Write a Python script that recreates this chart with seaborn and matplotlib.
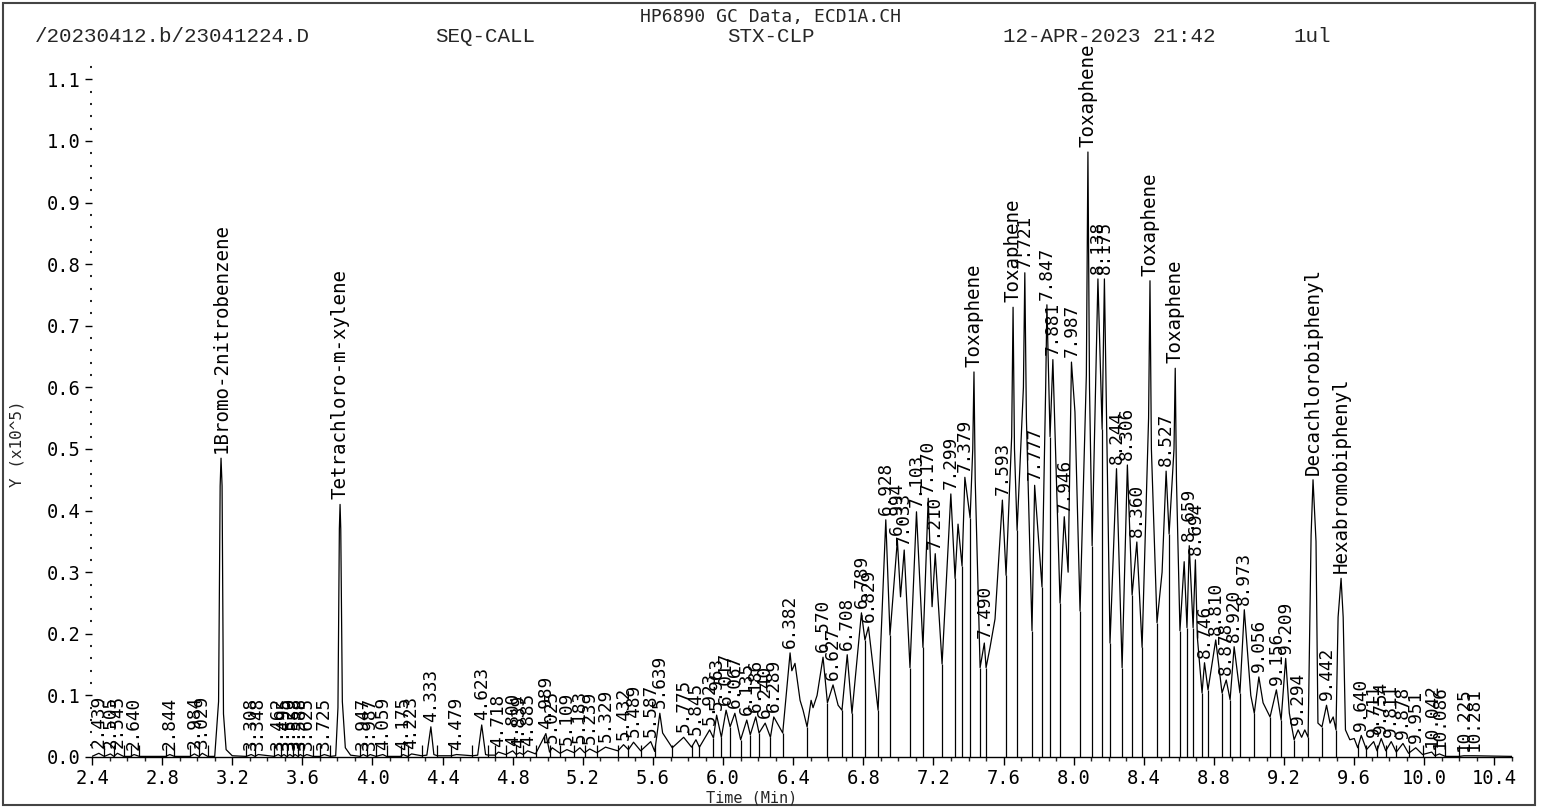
import numpy as np
import pandas as pd
import seaborn as sns
from matplotlib import pyplot as plt
from matplotlib.patches import Rectangle
from matplotlib.ticker import MultipleLocator, FormatStrFormatter

# peak apexes: retention time (min), signal (x10^5), printed label
peak_t = [2.439, 2.505, 2.545, 2.640, 2.844, 2.984, 3.029, 3.136,
          3.308, 3.348, 3.462, 3.495, 3.529, 3.558, 3.588, 3.625, 3.725, 3.815,
          3.947, 3.987, 4.059, 4.175, 4.223, 4.333, 4.479, 4.623,
          4.718, 4.800, 4.839, 4.885, 4.989, 5.025, 5.109, 5.183, 5.239, 5.329,
          5.432, 5.489, 5.587, 5.639, 5.775, 5.845, 5.923, 5.963, 6.017, 6.067,
          6.135, 6.186, 6.240, 6.289, 6.382, 6.410, 6.570, 6.627, 6.708, 6.789,
          6.829, 6.928, 6.994, 7.033, 7.103, 7.170, 7.210, 7.299, 7.340, 7.379,
          7.431, 7.490, 7.522, 7.593, 7.654, 7.721, 7.777, 7.847, 7.881, 7.946,
          7.987, 8.081, 8.138, 8.175, 8.244, 8.306, 8.360, 8.435, 8.527, 8.579,
          8.630, 8.659, 8.694, 8.746, 8.810, 8.870, 8.915, 8.973, 9.056, 9.156,
          9.209, 9.280, 9.318, 9.365, 9.442, 9.525, 9.600, 9.640, 9.711, 9.754,
          9.811, 9.878, 9.951, 10.042, 10.086, 10.225, 10.281]
peak_y = [0.006, 0.005, 0.006, 0.004, 0.004, 0.005, 0.006, 0.485,
          0.004, 0.004, 0.004, 0.004, 0.004, 0.004, 0.004, 0.004, 0.004, 0.410,
          0.004, 0.004, 0.004, 0.004, 0.005, 0.049, 0.004, 0.052,
          0.008, 0.010, 0.007, 0.010, 0.038, 0.015, 0.012, 0.015, 0.013, 0.016,
          0.020, 0.024, 0.025, 0.071, 0.032, 0.028, 0.044, 0.068, 0.076, 0.071,
          0.060, 0.065, 0.055, 0.065, 0.169, 0.152, 0.162, 0.117, 0.166, 0.234,
          0.211, 0.385, 0.352, 0.336, 0.398, 0.420, 0.330, 0.427, 0.378, 0.454,
          0.625, 0.185, 0.177, 0.417, 0.730, 0.786, 0.441, 0.734, 0.645, 0.390,
          0.641, 0.982, 0.776, 0.776, 0.468, 0.474, 0.349, 0.773, 0.464, 0.631,
          0.317, 0.343, 0.320, 0.153, 0.190, 0.125, 0.179, 0.239, 0.130, 0.109,
          0.160, 0.044, 0.044, 0.450, 0.084, 0.290, 0.030, 0.035, 0.025, 0.030,
          0.025, 0.022, 0.015, 0.008, 0.005, 0.002, 0.002]
peak_label = ["2.439", "2.505", "2.545", "2.640", "2.844", "2.984", "3.029", "1Bromo-2nitrobenzene",
              "3.308", "3.348", "3.462", "3.495", "3.529", "3.558", "3.588", "3.625", "3.725",
              "Tetrachloro-m-xylene",
              "3.947", "3.987", "4.059", "4.175", "4.223", "4.333", "4.479", "4.623",
              "4.718", "4.800", "4.839", "4.885", "4.989", "5.025", "5.109", "5.183", "5.239", "5.329",
              "5.432", "5.489", "5.587", "5.639", "5.775", "5.845", "5.923", "5.963", "6.017", "6.067",
              "6.135", "6.186", "6.240", "6.289", "6.382", "", "6.570", "6.627", "6.708", "6.789",
              "6.829", "6.928", "6.994", "7.033", "7.103", "7.170", "7.210", "7.299", "", "7.379",
              "Toxaphene", "7.490", "", "7.593", "Toxaphene", "7.721", "7.777", "7.847", "7.881", "7.946",
              "7.987", "Toxaphene", "8.138", "8.175", "8.244", "8.306", "8.360", "Toxaphene", "8.527",
              "Toxaphene",
              "", "8.659", "8.694", "8.746", "8.810", "8.878", "8.920", "8.973", "9.056", "9.156",
              "9.209", "9.294", "", "Decachlorobiphenyl", "9.442", "Hexabromobiphenyl", "", "9.640",
              "9.711", "9.754",
              "9.811", "9.878", "9.951", "10.042", "10.086", "10.225", "10.281"]

# valleys between peaks, where the integrator drops a line to the baseline
valley_t = [2.470, 2.525, 2.580, 2.620, 2.670, 2.820, 2.870, 2.960, 3.010, 3.060,
            3.280, 3.330, 3.440, 3.480, 3.510, 3.545, 3.575, 3.605, 3.660, 3.700, 3.760,
            3.930, 3.970, 4.020, 4.080, 4.160, 4.200, 4.280, 4.370, 4.450, 4.570, 4.660,
            4.700, 4.760, 4.820, 4.860, 4.930, 5.010, 5.070, 5.150, 5.210, 5.280, 5.400,
            5.460, 5.530, 5.610, 5.710, 5.820, 5.865, 5.945, 5.990, 6.040, 6.100, 6.155,
            6.205, 6.270, 6.340, 6.479, 6.595, 6.678, 6.735, 6.809, 6.884, 6.952, 7.066,
            7.140, 7.249, 7.323, 7.363, 7.409, 7.466, 7.500, 7.614, 7.677, 7.762, 7.819,
            7.865, 7.922, 8.036, 8.105, 8.162, 8.207, 8.276, 8.333, 8.390, 8.475, 8.544,
            8.606, 8.646, 8.681, 8.732, 8.766, 8.846, 8.892, 8.948, 9.030, 9.120, 9.183,
            9.257, 9.337, 9.416, 9.496, 9.620, 9.670, 9.730, 9.780, 9.840, 9.910, 9.990,
            10.060, 10.120, 10.200]
valley_y = [0.001, 0.001, 0.001, 0.001, 0.001, 0.001, 0.001, 0.001, 0.001, 0.001,
            0.001, 0.001, 0.001, 0.001, 0.001, 0.001, 0.001, 0.001, 0.001, 0.001, 0.001,
            0.001, 0.001, 0.001, 0.001, 0.001, 0.001, 0.002, 0.002, 0.002, 0.002, 0.003,
            0.003, 0.004, 0.004, 0.004, 0.005, 0.008, 0.006, 0.007, 0.007, 0.007, 0.010,
            0.012, 0.010, 0.009, 0.015, 0.016, 0.016, 0.031, 0.032, 0.049, 0.028, 0.036,
            0.039, 0.032, 0.039, 0.049, 0.088, 0.076, 0.071, 0.190, 0.076, 0.198, 0.145,
            0.178, 0.151, 0.290, 0.310, 0.388, 0.145, 0.145, 0.295, 0.368, 0.205, 0.276,
            0.520, 0.250, 0.237, 0.343, 0.532, 0.185, 0.145, 0.263, 0.178, 0.218, 0.362,
            0.205, 0.210, 0.210, 0.104, 0.109, 0.104, 0.093, 0.104, 0.071, 0.065, 0.060,
            0.028, 0.032, 0.049, 0.044, 0.015, 0.012, 0.010, 0.010, 0.008, 0.006, 0.004,
            0.002, 0.001, 0.001]

# other points on the trace (peak flanks, shoulders, ends)
edge_t = [2.400, 3.100, 3.122, 3.131, 3.142, 3.150, 3.165, 3.200,
          3.790, 3.803, 3.811, 3.819, 3.828, 3.845, 3.875,
          4.310, 4.350, 4.600, 4.645, 5.655,
          6.392, 6.439, 6.456, 6.502, 6.513, 6.536, 6.656,
          7.012, 7.192, 7.424, 7.438, 7.551, 7.646, 7.662, 7.713, 7.730, 7.840,
          7.968, 8.007, 8.072, 8.090, 8.427, 8.443, 8.504, 8.572, 8.586, 8.705,
          9.010, 9.080, 9.230, 9.300, 9.354, 9.382, 9.393, 9.462, 9.480,
          9.508, 9.537, 9.550, 9.575, 10.500]
edge_y = [0.001, 0.001, 0.090, 0.440, 0.440, 0.070, 0.012, 0.002,
          0.002, 0.080, 0.370, 0.370, 0.090, 0.015, 0.003,
          0.003, 0.004, 0.003, 0.004, 0.039,
          0.140, 0.092, 0.076, 0.092, 0.080, 0.100, 0.084,
          0.260, 0.244, 0.500, 0.450, 0.224, 0.520, 0.500, 0.600, 0.550, 0.600,
          0.300, 0.560, 0.620, 0.600, 0.550, 0.500, 0.300, 0.500, 0.450, 0.195,
          0.100, 0.088, 0.071, 0.032, 0.360, 0.350, 0.055, 0.055, 0.065,
          0.227, 0.227, 0.044, 0.028, 0.001]

x_ticks = [2.4, 2.8, 3.2, 3.6, 4.0, 4.4, 4.8, 5.2, 5.6, 6.0, 6.4, 6.8,
           7.2, 7.6, 8.0, 8.4, 8.8, 9.2, 9.6, 10.0, 10.4]
y_ticks = [0.0, 0.1, 0.2, 0.3, 0.4, 0.5, 0.6, 0.7, 0.8, 0.9, 1.0, 1.1]

header_top = "HP6890 GC Data, ECD1A.CH"
header_items = ["/20230412.b/23041224.D", "SEQ-CALL", "STX-CLP", "12-APR-2023 21:42", "1ul"]
header_x = [35, 435, 727, 1003, 1293]

sns.set_theme(style='white')
plt.rcParams['font.family'] = ['DejaVu Sans Mono', 'DejaVu Sans']

W, H = 1541, 808
fig = plt.figure(figsize=(W / 100, H / 100), dpi=100)
ax = fig.add_axes([92 / W, 51 / H, 1420 / W, 690 / H])

trace = pd.concat([
    pd.DataFrame({'t': peak_t, 'y': peak_y}),
    pd.DataFrame({'t': valley_t, 'y': valley_y}),
    pd.DataFrame({'t': edge_t, 'y': edge_y}),
]).sort_values('t').reset_index(drop=True)

sns.lineplot(data=trace, x='t', y='y', color='black', lw=0.9,
             estimator=None, sort=False, ax=ax)

# integration drop lines
ax.vlines(valley_t, 0, np.maximum(valley_y, 0.02), color='black', lw=0.9)

# peak labels, rotated, sitting on the apex (compound names a touch larger)
for t, y, s in zip(peak_t, peak_y, peak_label):
    if s:
        size = 12.8 if s[0].isdigit() and '.' in s else 13.8
        ax.text(t, y + 0.008, s, rotation=90, rotation_mode='anchor',
                ha='left', va='center', fontsize=size, color='black', clip_on=False)

ax.set_xlim(2.4, 10.5)
ax.set_ylim(0, 1.12)
ax.set_xticks(x_ticks)
ax.set_yticks(y_ticks)
ax.xaxis.set_major_formatter(FormatStrFormatter('%.1f'))
ax.yaxis.set_major_formatter(FormatStrFormatter('%.1f'))
ax.xaxis.set_minor_locator(MultipleLocator(0.1))
ax.yaxis.set_minor_locator(MultipleLocator(0.02))
ax.set_xlabel('')
ax.set_ylabel('')

for side in ['top', 'right', 'left']:
    ax.spines[side].set_visible(False)
ax.spines['bottom'].set_color('black')
ax.spines['bottom'].set_linewidth(1)

ax.tick_params(axis='x', which='major', direction='out', length=6, width=1,
               pad=3, labelsize=13.5, colors='black', bottom=True)
ax.tick_params(axis='x', which='minor', direction='out', length=3, width=1, bottom=True)
ax.tick_params(axis='y', which='major', direction='out', length=5, width=1,
               pad=3, labelsize=13.5, colors='black', left=True)
ax.tick_params(axis='y', which='minor', direction='out', length=1.5, width=1.5, left=True)

# header and axis titles
fig.text(770 / W, 1 - 17 / H, header_top, ha='center', va='center', fontsize=13)
for s, x in zip(header_items, header_x):
    fig.text(x / W, 1 - 37 / H, s, ha='left', va='center', fontsize=15,
             family=['Liberation Mono', 'DejaVu Sans Mono'])
fig.text(752 / W, 1 - 798 / H, 'Time (Min)', ha='center', va='center', fontsize=11)
fig.text(17 / W, 1 - 444 / H, 'Y (x10^5)', ha='center', va='center',
         rotation=90, fontsize=11.5)

fig.patches.append(Rectangle((3 / W, 3 / H), 1532 / W, 802 / H, transform=fig.transFigure,
                             fill=False, ec='#444444', lw=1.5))

fig.savefig('out.png', dpi=100)
